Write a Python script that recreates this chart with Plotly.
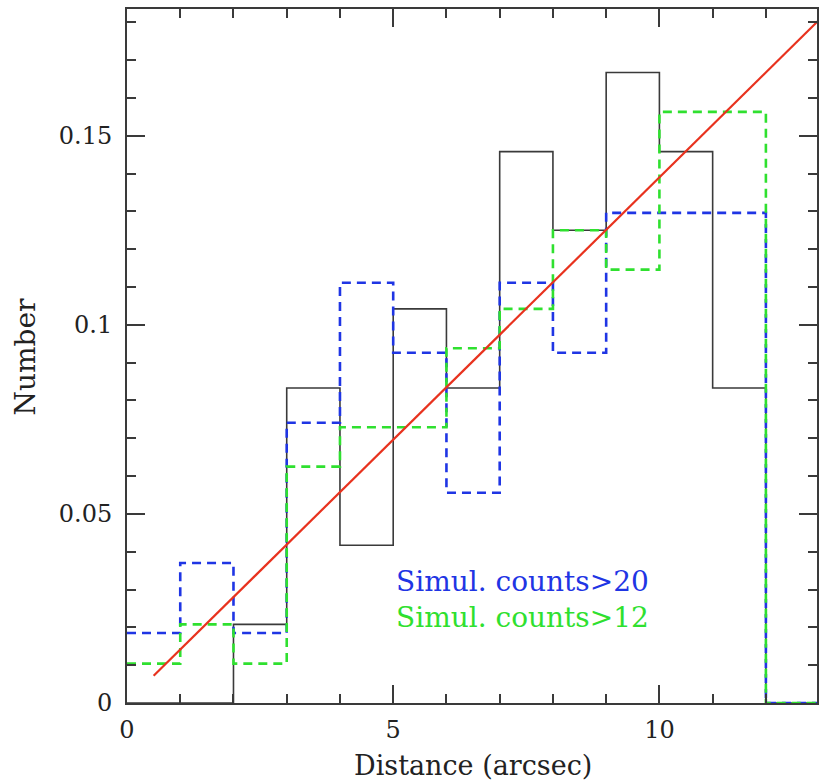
import plotly.graph_objects as go

# Bin edges (arcsec) and normalised histograms
bin_edges = [0, 1, 2, 3, 4, 5, 6, 7, 8, 9, 10, 11, 12, 13]
observed = [0.0, 0.0, 0.0208, 0.0833, 0.0417, 0.1042, 0.0833,
            0.1458, 0.1250, 0.1667, 0.1458, 0.0833, 0.0]
sim_counts20 = [0.0185, 0.0370, 0.0185, 0.0741, 0.1111, 0.0926, 0.0556,
                0.1111, 0.0926, 0.1296, 0.1296, 0.1296, 0.0]
sim_counts12 = [0.0104, 0.0208, 0.0104, 0.0625, 0.0729, 0.0729, 0.0938,
                0.1042, 0.1250, 0.1146, 0.1563, 0.1563, 0.0]

# Linear fit
fit_x = [0.5, 13.0]
fit_y = [0.0072, 0.1806]

x_ticks = [0, 5, 10]
y_ticks = [0, 0.05, 0.1, 0.15]
y_tick_text = ["0", "0.05", "0.1", "0.15"]

BLUE = "#1f35e4"
GREEN = "#2fe02f"
RED = "#e8321e"
DARK = "#3a3a3a"
FONT = "DejaVu Serif"


def step_xy(values):
    return bin_edges, values + [values[-1]]


fig = go.Figure()

for vals, color, dash, width in [
    (observed, DARK, "solid", 1.6),
    (sim_counts20, BLUE, "9px,6px", 2.6),
    (sim_counts12, GREEN, "9px,6px", 2.6),
]:
    sx, sy = step_xy(vals)
    fig.add_trace(go.Scatter(
        x=sx, y=sy, mode="lines", line_shape="hv",
        line=dict(color=color, width=width, dash=dash),
        showlegend=False, hoverinfo="skip",
    ))

fig.add_trace(go.Scatter(
    x=fit_x, y=fit_y, mode="lines",
    line=dict(color=RED, width=2.2),
    showlegend=False, hoverinfo="skip",
))

axis_common = dict(
    showline=True, linecolor=DARK, linewidth=2, mirror="allticks",
    ticks="inside", ticklen=18, tickwidth=2, tickcolor=DARK,
    showgrid=False, zeroline=False,
    tickfont=dict(family=FONT, size=24, color="#222"),
)

fig.update_xaxes(
    range=[0, 12.96], tickvals=x_ticks,
    minor=dict(ticks="inside", ticklen=9, tickwidth=2, tickcolor=DARK, dtick=1, showgrid=False),
    ticklabelstandoff=4,
    **axis_common,
)
fig.update_yaxes(
    range=[0, 0.1835], tickvals=y_ticks, ticktext=y_tick_text,
    minor=dict(ticks="inside", ticklen=9, tickwidth=2, tickcolor=DARK, dtick=0.01, showgrid=False),
    ticklabelstandoff=8,
    **axis_common,
)

annotations = [
    dict(text="Distance (arcsec)", x=0.5017, y=-0.1153, xref="paper", yref="paper",
         xanchor="center", yanchor="bottom", showarrow=False,
         font=dict(family=FONT, size=27, color="#222")),
    dict(text="Number", x=-0.1469, y=0.4986, xref="paper", yref="paper",
         xanchor="center", yanchor="middle", textangle=-90, showarrow=False,
         font=dict(family=FONT, size=28, color="#222")),
    dict(text="Simul. counts>20", x=5.02, y=0.0321, xref="x", yref="y",
         xanchor="left", yanchor="middle", showarrow=False,
         font=dict(family=FONT, size=28, color=BLUE)),
    dict(text="Simul. counts>12", x=5.02, y=0.0225, xref="x", yref="y",
         xanchor="left", yanchor="middle", showarrow=False,
         font=dict(family=FONT, size=28, color=GREEN)),
]

fig.update_layout(
    width=819, height=784,
    margin=dict(l=127, r=0, t=9, b=81),
    plot_bgcolor="white", paper_bgcolor="white",
    annotations=annotations,
)

fig.write_html("out.html")
